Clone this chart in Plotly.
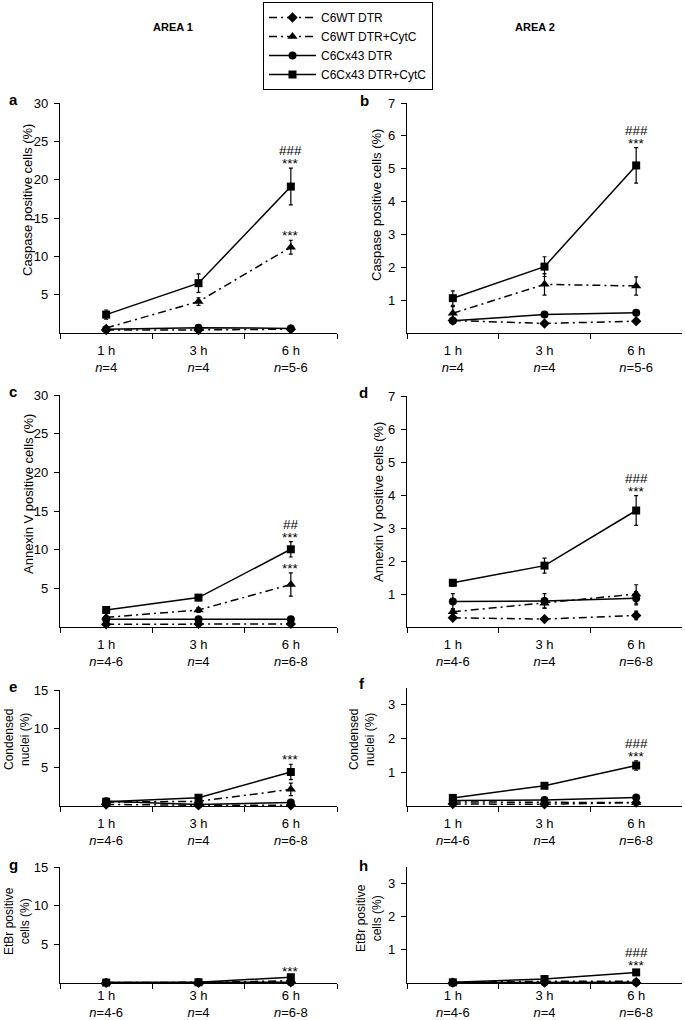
import plotly.graph_objects as go

W, H = 685, 1020
FONT = "Liberation Sans, Arial, sans-serif"

series_names = ["C6WT DTR", "C6WT DTR+CytC", "C6Cx43 DTR", "C6Cx43 DTR+CytC"]
times = ["1 h", "3 h", "6 h"]

# n per time point
n_ab = ["4", "4", "5-6"]
n_cdefgh = ["4-6", "4", "6-8"]

# series order: C6WT DTR, C6WT DTR+CytC, C6Cx43 DTR, C6Cx43 DTR+CytC
a_means = [[0.4, 0.4, 0.5], [0.65, 4.1, 11.2], [0.5, 0.7, 0.6], [2.4, 6.5, 19.1]]
a_errs = [[0.1, 0.1, 0.1], [0.2, 0.5, 0.9], [0.1, 0.2, 0.1], [0.6, 1.2, 2.4]]

b_means = [[0.38, 0.29, 0.36], [0.6, 1.48, 1.43], [0.37, 0.56, 0.62], [1.06, 2.02, 5.1]]
b_errs = [[0.04, 0.05, 0.05], [0.2, 0.33, 0.28], [0.03, 0.04, 0.07], [0.22, 0.3, 0.54]]

c_means = [[0.35, 0.4, 0.4], [1.25, 2.2, 5.5], [1.0, 1.0, 1.0], [2.2, 3.8, 10.05]]
c_errs = [[0.1, 0.1, 0.1], [0.2, 0.3, 1.5], [0.2, 0.2, 0.2], [0.3, 0.4, 1.0]]

d_means = [[0.28, 0.24, 0.35], [0.46, 0.72, 1.0], [0.77, 0.79, 0.87], [1.34, 1.86, 3.53]]
d_errs = [[0.03, 0.03, 0.13], [0.1, 0.15, 0.28], [0.24, 0.22, 0.2], [0.1, 0.23, 0.45]]

e_means = [[0.2, 0.1, 0.1], [0.5, 0.6, 2.15], [0.6, 0.2, 0.45], [0.55, 1.07, 4.4]]
e_errs = [[0.05, 0.05, 0.05], [0.1, 0.1, 0.8], [0.1, 0.1, 0.1], [0.1, 0.2, 1.0]]

f_means = [[0.06, 0.05, 0.1], [0.12, 0.12, 0.1], [0.16, 0.18, 0.25], [0.24, 0.6, 1.2]]
f_errs = [[0.02, 0.02, 0.02], [0.02, 0.02, 0.02], [0.03, 0.03, 0.04], [0.04, 0.06, 0.14]]

g_means = [[0.02, 0.02, 0.1], [0.05, 0.05, 0.3], [0.05, 0.05, 0.1], [0.05, 0.1, 0.75]]
g_errs = [[0.01, 0.01, 0.05], [0.02, 0.02, 0.1], [0.02, 0.02, 0.03], [0.02, 0.05, 0.2]]

h_means = [[0.01, 0.01, 0.01], [0.02, 0.05, 0.05], [0.01, 0.02, 0.02], [0.02, 0.12, 0.32]]
h_errs = [[0.005, 0.005, 0.005], [0.01, 0.01, 0.01], [0.005, 0.01, 0.01], [0.01, 0.03, 0.07]]

# significance marks at 6 h: (series index, text lines bottom->top)
a_sig = [(3, ["***", "###"]), (1, ["***"])]
b_sig = [(3, ["***", "###"])]
c_sig = [(3, ["***", "##"]), (1, ["***"])]
d_sig = [(3, ["***", "###"])]
e_sig = [(3, ["***"])]
f_sig = [(3, ["***", "###"])]
g_sig = [(3, ["***"])]
h_sig = [(3, ["***", "###"])]

y_titles = [
    "Caspase positive cells (%)", "Caspase positive cells (%)",
    "Annexin V positive cells (%)", "Annexin V positive cells (%)",
    "Condensed<br>nuclei (%)", "Condensed<br>nuclei (%)",
    "EtBr positive<br>cells (%)", "EtBr positive<br>cells (%)",
]
y_ticks = [
    [5, 10, 15, 20, 25, 30], [1, 2, 3, 4, 5, 6, 7],
    [5, 10, 15, 20, 25, 30], [1, 2, 3, 4, 5, 6, 7],
    [5, 10, 15], [1, 2, 3],
    [5, 10, 15], [1, 2, 3],
]
y_max = [30, 7, 30, 7, 15, 3.5, 15, 3.5]
letters = ["a", "b", "c", "d", "e", "f", "g", "h"]
n_labels = [n_ab, n_ab, n_cdefgh, n_cdefgh, n_cdefgh, n_cdefgh, n_cdefgh, n_cdefgh]
means = [a_means, b_means, c_means, d_means, e_means, f_means, g_means, h_means]
errs = [a_errs, b_errs, c_errs, d_errs, e_errs, f_errs, g_errs, h_errs]
sigs = [a_sig, b_sig, c_sig, d_sig, e_sig, f_sig, g_sig, h_sig]

# ---- layout geometry (pixels) ----
col_x = [(60, 337), (407, 682)]
row_y = [(103, 333), (103, 333), (395, 627), (396, 627), (690, 806), (688, 806), (867, 983), (867, 983)]
x_standoff = [5, 5, 5, 5, 5, 5, 0, 0]
ytitle_pos = [(28, 200), (377, 205), (28, 494), (378, 502), (17, 740), (362, 740), (17, 921), (369, 918)]
ytitle_size = [13, 13, 13, 13, 12, 12, 12, 12]
letter_pos = [(7, 100), (358, 101), (7, 392), (357, 393), (7, 686), (357, 683), (7, 864), (357, 865)]

symbols = ["diamond", "triangle-up", "circle", "square"]
msizes = [8, 9, 8, 8]
dashes = ["8px,4px,2px,4px", "8px,4px,2px,4px", "solid", "solid"]


def px_x(p):
    return p / W


def px_y(p):
    return 1 - p / H


fig = go.Figure()
annotations = []
layout = {}

for i in range(8):
    k = "" if i == 0 else str(i + 1)
    cats = [f"{t}<br><i>n</i>={n}" for t, n in zip(times, n_labels[i])]
    cx = col_x[i % 2]
    ry = row_y[i]
    layout["xaxis" + k] = dict(
        domain=[px_x(cx[0]), px_x(cx[1])], anchor="y" + k, type="category",
        categoryorder="array", categoryarray=cats, range=[-0.5, 2.5],
        tickson="boundaries", ticks="outside", ticklen=5, tickcolor="black",
        showline=True, linecolor="black", linewidth=1.2, showgrid=False, zeroline=False,
        tickfont=dict(family=FONT, size=13, color="black"), fixedrange=True,
        automargin=False, ticklabelstandoff=x_standoff[i],
    )
    layout["yaxis" + k] = dict(
        domain=[px_y(ry[1]), px_y(ry[0])], anchor="x" + k, range=[0, y_max[i]],
        tickvals=y_ticks[i], ticks="outside", ticklen=5, tickcolor="black",
        showline=True, linecolor="black", linewidth=1.2, showgrid=False, zeroline=False,
        tickfont=dict(family=FONT, size=13, color="black"), fixedrange=True,
        automargin=False, ticklabelstandoff=3,
    )
    for s in range(4):
        fig.add_trace(go.Scatter(
            x=cats, y=means[i][s], name=series_names[s],
            xaxis="x" + k, yaxis="y" + k, mode="lines+markers",
            line=dict(color="black", width=1.5, dash=dashes[s]),
            marker=dict(symbol=symbols[s], size=msizes[s], color="black"),
            error_y=dict(type="data", array=errs[i][s], color="black", thickness=1.2, width=2),
            showlegend=(i == 0), cliponaxis=False, hoverinfo="skip",
        ))
    for s_idx, lines in sigs[i]:
        top = means[i][s_idx][2] + errs[i][s_idx][2]
        for j, txt in enumerate(lines):
            annotations.append(dict(
                x=cats[2], y=top, xref="x" + k, yref="y" + k, text=txt,
                showarrow=False, yanchor="bottom", xanchor="center",
                yshift=-5 if j == 0 else 8,
                font=dict(family=FONT, size=13.5, color="black"),
            ))
    tx, ty = ytitle_pos[i]
    annotations.append(dict(
        x=px_x(tx), y=px_y(ty), xref="paper", yref="paper", text=y_titles[i],
        textangle=-90, showarrow=False, xanchor="center", yanchor="middle",
        font=dict(family=FONT, size=ytitle_size[i], color="black"),
    ))
    lx, ly = letter_pos[i]
    annotations.append(dict(
        x=px_x(lx), y=px_y(ly), xref="paper", yref="paper", text=f"<b>{letters[i]}</b>",
        showarrow=False, xanchor="left", yanchor="middle",
        font=dict(family=FONT, size=15, color="black"),
    ))

for txt, xpx in [("AREA 1", 173), ("AREA 2", 535)]:
    annotations.append(dict(
        x=px_x(xpx), y=px_y(27), xref="paper", yref="paper", text=f"<b>{txt}</b>",
        showarrow=False, xanchor="center", yanchor="middle",
        font=dict(family=FONT, size=11, color="black"),
    ))

fig.update_layout(
    **layout,
    width=W, height=H, autosize=False,
    margin=dict(l=0, r=0, t=0, b=0, pad=0, autoexpand=False),
    paper_bgcolor="white", plot_bgcolor="white",
    font=dict(family=FONT, color="black"),
    annotations=annotations,
    hovermode=False,
    legend=dict(
        x=px_x(263), y=px_y(2), xanchor="left", yanchor="top",
        bordercolor="black", borderwidth=1, bgcolor="white",
        font=dict(family=FONT, size=12, color="black"),
        itemwidth=47, tracegroupgap=0,
    ),
)

fig.write_html(
    "out.html",
    config={"displayModeBar": False, "staticPlot": True},
    post_script="document.body.style.margin='0';document.body.style.overflow='hidden';",
)
